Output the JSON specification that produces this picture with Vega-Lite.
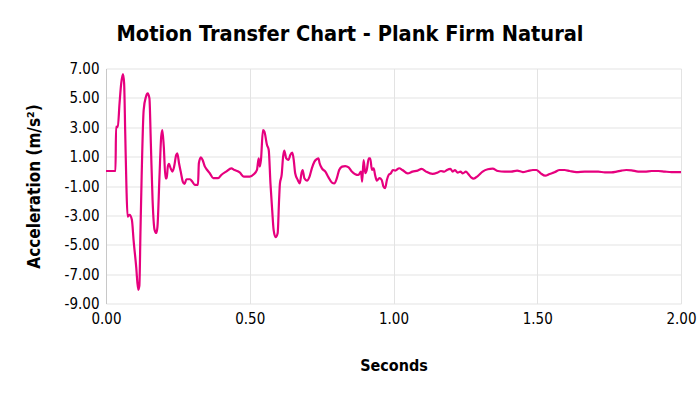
{
  "$schema": "https://vega.github.io/schema/vega-lite/v6.json",
  "width": 575,
  "height": 235,
  "autosize": {"type": "none"},
  "padding": {"left": 106, "top": 68.5, "right": 19, "bottom": 90.5},
  "background": "white",
  "title": {
    "text": "Motion Transfer Chart - Plank Firm Natural",
    "font": "DejaVu Sans Condensed",
    "fontSize": 21.6,
    "fontWeight": "bold",
    "color": "#000000",
    "anchor": "middle",
    "dx": -43.5,
    "offset": 16
  },
  "data": {
    "values": [
      {"t": 0.0, "a": 0.02}, {"t": 0.033, "a": 0.02}, {"t": 0.035, "a": 3.04}, {"t": 0.041, "a": 3.0},
      {"t": 0.047, "a": 4.6}, {"t": 0.053, "a": 6.0}, {"t": 0.059, "a": 6.62}, {"t": 0.063, "a": 6.0},
      {"t": 0.067, "a": 2.5}, {"t": 0.071, "a": -1.0}, {"t": 0.075, "a": -3.08}, {"t": 0.082, "a": -2.97},
      {"t": 0.09, "a": -3.3}, {"t": 0.096, "a": -4.7}, {"t": 0.105, "a": -6.5}, {"t": 0.112, "a": -8.07},
      {"t": 0.116, "a": -7.8}, {"t": 0.12, "a": -4.0}, {"t": 0.124, "a": -0.36}, {"t": 0.131, "a": 4.17},
      {"t": 0.139, "a": 5.08}, {"t": 0.145, "a": 5.3}, {"t": 0.151, "a": 4.97}, {"t": 0.156, "a": 1.9},
      {"t": 0.162, "a": -1.95}, {"t": 0.169, "a": -3.99}, {"t": 0.175, "a": -4.2}, {"t": 0.179, "a": -3.76},
      {"t": 0.186, "a": -0.36}, {"t": 0.192, "a": 2.36}, {"t": 0.196, "a": 2.81}, {"t": 0.201, "a": 1.68},
      {"t": 0.207, "a": -0.48}, {"t": 0.211, "a": -0.48}, {"t": 0.215, "a": 0.32}, {"t": 0.219, "a": 0.5},
      {"t": 0.225, "a": 0.2}, {"t": 0.231, "a": -0.02}, {"t": 0.237, "a": 0.32}, {"t": 0.244, "a": 1.11},
      {"t": 0.248, "a": 1.23}, {"t": 0.254, "a": 0.55}, {"t": 0.261, "a": -0.13}, {"t": 0.267, "a": -0.7},
      {"t": 0.273, "a": -0.86}, {"t": 0.28, "a": -0.54}, {"t": 0.292, "a": -0.54}, {"t": 0.3, "a": -0.7},
      {"t": 0.309, "a": -0.93}, {"t": 0.32, "a": -0.93}, {"t": 0.323, "a": 0.55}, {"t": 0.33, "a": 0.95},
      {"t": 0.336, "a": 0.77}, {"t": 0.344, "a": 0.32}, {"t": 0.352, "a": 0.09}, {"t": 0.361, "a": -0.13},
      {"t": 0.373, "a": -0.47}, {"t": 0.39, "a": -0.47}, {"t": 0.401, "a": -0.25}, {"t": 0.418, "a": -0.02},
      {"t": 0.436, "a": 0.2}, {"t": 0.447, "a": 0.09}, {"t": 0.465, "a": -0.07}, {"t": 0.479, "a": -0.36},
      {"t": 0.5, "a": -0.36}, {"t": 0.514, "a": -0.2}, {"t": 0.525, "a": 0.09}, {"t": 0.531, "a": 0.88},
      {"t": 0.535, "a": 0.32}, {"t": 0.539, "a": 0.77}, {"t": 0.546, "a": 2.81}, {"t": 0.551, "a": 2.7},
      {"t": 0.56, "a": 1.79}, {"t": 0.566, "a": 1.45}, {"t": 0.572, "a": -0.82}, {"t": 0.578, "a": -2.63},
      {"t": 0.583, "a": -3.99}, {"t": 0.59, "a": -4.49}, {"t": 0.597, "a": -4.22}, {"t": 0.602, "a": -1.95},
      {"t": 0.605, "a": -0.82}, {"t": 0.611, "a": -0.25}, {"t": 0.616, "a": 1.0}, {"t": 0.62, "a": 1.41},
      {"t": 0.627, "a": 0.88}, {"t": 0.635, "a": 0.77}, {"t": 0.641, "a": 1.11}, {"t": 0.648, "a": 1.27},
      {"t": 0.653, "a": 0.77}, {"t": 0.658, "a": -0.13}, {"t": 0.667, "a": -0.59}, {"t": 0.674, "a": -0.82},
      {"t": 0.68, "a": -0.13}, {"t": 0.684, "a": 0.09}, {"t": 0.69, "a": -0.47}, {"t": 0.699, "a": -0.63},
      {"t": 0.708, "a": -0.36}, {"t": 0.716, "a": 0.2}, {"t": 0.725, "a": 0.66}, {"t": 0.734, "a": 0.84},
      {"t": 0.739, "a": 0.88}, {"t": 0.743, "a": 0.55}, {"t": 0.751, "a": 0.2}, {"t": 0.763, "a": -0.02},
      {"t": 0.774, "a": -0.41}, {"t": 0.786, "a": -0.77}, {"t": 0.794, "a": -0.82}, {"t": 0.803, "a": -0.47},
      {"t": 0.811, "a": 0.09}, {"t": 0.821, "a": 0.32}, {"t": 0.832, "a": 0.36}, {"t": 0.844, "a": 0.27},
      {"t": 0.855, "a": -0.02}, {"t": 0.867, "a": -0.2}, {"t": 0.878, "a": -0.25}, {"t": 0.887, "a": -0.02},
      {"t": 0.891, "a": -0.7}, {"t": 0.896, "a": 0.77}, {"t": 0.902, "a": -0.13}, {"t": 0.907, "a": 0.09},
      {"t": 0.914, "a": 0.88}, {"t": 0.919, "a": 0.88}, {"t": 0.925, "a": 0.09}, {"t": 0.931, "a": 0.2},
      {"t": 0.936, "a": -0.25}, {"t": 0.942, "a": -0.63}, {"t": 0.951, "a": -0.47}, {"t": 0.959, "a": -0.59},
      {"t": 0.965, "a": -1.04}, {"t": 0.971, "a": -1.15}, {"t": 0.977, "a": -0.59}, {"t": 0.983, "a": -0.25},
      {"t": 0.991, "a": -0.13}, {"t": 0.998, "a": 0.09}, {"t": 1.006, "a": 0.05}, {"t": 1.02, "a": 0.21},
      {"t": 1.031, "a": 0.09}, {"t": 1.049, "a": -0.14}, {"t": 1.066, "a": -0.02}, {"t": 1.084, "a": 0.05},
      {"t": 1.098, "a": 0.16}, {"t": 1.113, "a": -0.02}, {"t": 1.136, "a": -0.18}, {"t": 1.153, "a": -0.09},
      {"t": 1.165, "a": 0.02}, {"t": 1.177, "a": -0.02}, {"t": 1.186, "a": 0.09}, {"t": 1.198, "a": 0.16},
      {"t": 1.206, "a": -0.02}, {"t": 1.214, "a": 0.09}, {"t": 1.223, "a": -0.09}, {"t": 1.233, "a": -0.02},
      {"t": 1.241, "a": -0.14}, {"t": 1.252, "a": -0.02}, {"t": 1.26, "a": -0.18}, {"t": 1.27, "a": -0.41},
      {"t": 1.279, "a": -0.5}, {"t": 1.293, "a": -0.32}, {"t": 1.31, "a": -0.02}, {"t": 1.328, "a": 0.14},
      {"t": 1.345, "a": 0.18}, {"t": 1.363, "a": 0.02}, {"t": 1.386, "a": -0.02}, {"t": 1.409, "a": -0.02},
      {"t": 1.43, "a": 0.05}, {"t": 1.45, "a": -0.05}, {"t": 1.467, "a": 0.02}, {"t": 1.485, "a": 0.09},
      {"t": 1.497, "a": 0.09}, {"t": 1.512, "a": -0.14}, {"t": 1.528, "a": -0.3}, {"t": 1.543, "a": -0.18},
      {"t": 1.56, "a": -0.07}, {"t": 1.578, "a": 0.09}, {"t": 1.595, "a": 0.09}, {"t": 1.613, "a": 0.02},
      {"t": 1.636, "a": -0.05}, {"t": 1.665, "a": -0.02}, {"t": 1.688, "a": -0.02}, {"t": 1.712, "a": -0.02},
      {"t": 1.735, "a": -0.07}, {"t": 1.758, "a": -0.07}, {"t": 1.776, "a": -0.02}, {"t": 1.793, "a": 0.05},
      {"t": 1.81, "a": 0.09}, {"t": 1.828, "a": 0.07}, {"t": 1.851, "a": -0.02}, {"t": 1.874, "a": -0.02},
      {"t": 1.898, "a": 0.02}, {"t": 1.921, "a": 0.02}, {"t": 1.944, "a": -0.02}, {"t": 1.967, "a": -0.05},
      {"t": 1.991, "a": -0.05}, {"t": 2.0, "a": -0.05}
    ]
  },
  "mark": {"type": "line", "color": "#E6007E", "strokeWidth": 2.2, "interpolate": "monotone"},
  "encoding": {
    "x": {
      "field": "t",
      "type": "quantitative",
      "scale": {"domain": [0, 2], "nice": false, "zero": false},
      "axis": {
        "title": "Seconds",
        "values": [0, 0.5, 1, 1.5, 2],
        "format": ".2f",
        "labelFont": "DejaVu Sans Condensed",
        "labelFontSize": 15,
        "labelColor": "#000000",
        "labelPadding": 8,
        "labelFlush": false,
        "ticks": false,
        "domain": false,
        "grid": true,
        "gridColor": "#e3e3e3",
        "titleFont": "DejaVu Sans Condensed",
        "titleFontSize": 16,
        "titleFontWeight": "bold",
        "titleColor": "#000000",
        "titlePadding": 31
      }
    },
    "y": {
      "field": "a",
      "type": "quantitative",
      "scale": {"domain": [-9, 7], "nice": false, "zero": false},
      "axis": {
        "title": "Acceleration (m/s²)",
        "values": [-9, -7, -5, -3, -1, 1, 3, 5, 7],
        "format": ".2f",
        "labelExpr": "replace(datum.label, '−', '-')",
        "labelFont": "DejaVu Sans Condensed",
        "labelFontSize": 15,
        "labelColor": "#000000",
        "labelPadding": 7,
        "labelFlush": false,
        "ticks": false,
        "domain": true,
        "domainColor": "#c8c8c8",
        "grid": true,
        "gridColor": "#e3e3e3",
        "titleFont": "DejaVu Sans Condensed",
        "titleFontSize": 17,
        "titleFontWeight": "bold",
        "titleColor": "#000000",
        "titlePadding": 21
      }
    }
  },
  "config": {"view": {"stroke": null}}
}
